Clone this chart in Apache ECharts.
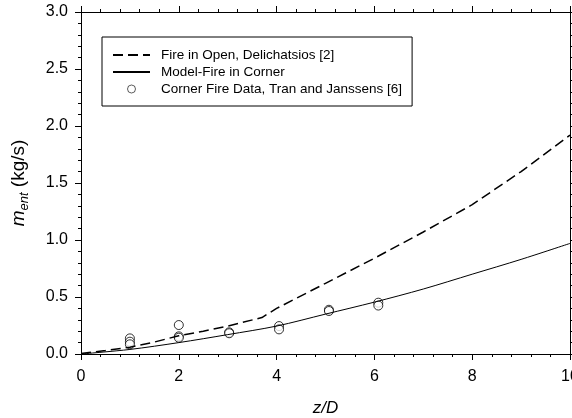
<!DOCTYPE html>
<html>
<head>
<meta charset="utf-8">
<script src="https://cdn.jsdelivr.net/npm/echarts@6/dist/echarts.min.js"></script>
<style>
  html, body { margin: 0; padding: 0; background: #fff; }
  #chart { width: 572px; height: 418px; }
</style>
</head>
<body>
<div id="chart"></div>
<script>
  // Fire in open (Delichatsios) - dashed
  var openX = [0, 0.5, 1, 1.5, 2, 2.5, 3, 3.7, 4, 5, 6, 7, 8, 9, 10];
  var openY = [0.005, 0.03, 0.06, 0.105, 0.16, 0.20, 0.245, 0.32, 0.40, 0.62, 0.84, 1.07, 1.31, 1.60, 1.92];
  // Model - fire in corner - solid
  var modelX = [0, 1, 2, 3, 4, 5, 6, 7, 8, 9, 10];
  var modelY = [0, 0.04, 0.10, 0.17, 0.245, 0.35, 0.455, 0.57, 0.70, 0.83, 0.97];
  // Corner fire data, Tran and Janssens
  var dataX = [1, 1, 1, 2, 2, 2, 3.03, 3.03, 4.05, 4.05, 5.07, 5.07, 6.08, 6.08];
  var dataY = [0.137, 0.108, 0.085, 0.254, 0.155, 0.143, 0.19, 0.182, 0.245, 0.216, 0.388, 0.377, 0.45, 0.425];

  var xTicks = [0, 2, 4, 6, 8, 10];
  var yTicks = [0.0, 0.5, 1.0, 1.5, 2.0, 2.5, 3.0];
  var names = ['Fire in Open, Delichatsios [2]', 'Model-Fire in Corner', 'Corner Fire Data, Tran and Janssens [6]'];

  function pairs(xs, ys) {
    return xs.map(function (x, i) { return [x, ys[i]]; });
  }

  var font = 'Liberation Sans, Arial, sans-serif';
  var chart = echarts.init(document.getElementById('chart'));

  var axisCommon = {
    axisLine: { show: true, onZero: false, lineStyle: { color: '#000', width: 1 } },
    axisTick: { show: true, length: 6, lineStyle: { color: '#000' } },
    minorTick: { show: true, splitNumber: 5, length: 3, lineStyle: { color: '#000' } },
    splitLine: { show: false }
  };

  var option = {
    animation: false,
    backgroundColor: '#fff',
    textStyle: { fontFamily: font },
    grid: { left: 81, right: 2, top: 12, bottom: 64, containLabel: false, outerBoundsMode: 'none' },
    legend: {
      orient: 'vertical',
      left: 102,
      top: 37,
      padding: [10, 10, 9, 10],
      borderColor: '#000',
      borderWidth: 1,
      itemWidth: 37,
      itemHeight: 8,
      itemGap: 1,
      textStyle: { fontFamily: font, fontSize: 13.5, lineHeight: 16, color: '#000', padding: [0, 0, 0, 6] },
      data: [
        { name: names[0], itemStyle: { opacity: 0 } },
        { name: names[1], itemStyle: { opacity: 0 } },
        { name: names[2], itemStyle: { color: '#fff', borderColor: '#000', borderWidth: 0.8 } }
      ]
    },
    xAxis: [
      Object.assign({
        type: 'value', min: xTicks[0], max: xTicks[xTicks.length - 1], interval: 2,
        position: 'bottom',
        axisLabel: { color: '#000', fontSize: 16, margin: 15, fontFamily: font },
        name: 'z/D',
        nameLocation: 'middle',
        nameGap: 46,
        nameTextStyle: { color: '#000', fontSize: 17, fontStyle: 'italic', fontFamily: font }
      }, axisCommon),
      Object.assign({
        type: 'value', min: xTicks[0], max: xTicks[xTicks.length - 1], interval: 2,
        position: 'top',
        axisLabel: { show: false }
      }, axisCommon)
    ],
    yAxis: [
      Object.assign({
        type: 'value', min: yTicks[0], max: yTicks[yTicks.length - 1], interval: 0.5,
        position: 'left',
        axisLabel: {
          color: '#000', fontSize: 16, margin: 13, fontFamily: font,
          formatter: function (v) { return v.toFixed(1); }
        },
        name: '{m|m}{sub|ent}{n| (kg/s)}',
        nameLocation: 'middle',
        nameGap: 50,
        nameTextStyle: {
          color: '#000', fontFamily: font,
          rich: {
            m: { fontSize: 19, fontStyle: 'italic', fontFamily: font, color: '#000', lineHeight: 24, verticalAlign: 'middle' },
            sub: { fontSize: 13, fontStyle: 'italic', fontFamily: font, color: '#000', lineHeight: 24, verticalAlign: 'bottom' },
            n: { fontSize: 19, fontFamily: font, color: '#000', lineHeight: 24, verticalAlign: 'middle' }
          }
        }
      }, axisCommon),
      Object.assign({
        type: 'value', min: yTicks[0], max: yTicks[yTicks.length - 1], interval: 0.5,
        position: 'right',
        axisLabel: { show: false }
      }, axisCommon)
    ],
    series: [
      {
        name: names[0],
        type: 'line',
        data: pairs(openX, openY),
        symbol: 'none',
        showSymbol: false,
        lineStyle: { color: '#000', width: 1.5, type: [10, 5] },
        itemStyle: { color: '#000' }
      },
      {
        name: names[1],
        type: 'line',
        data: pairs(modelX, modelY),
        symbol: 'none',
        showSymbol: false,
        smooth: 0.3,
        lineStyle: { color: '#000', width: 1 },
        itemStyle: { color: '#000' }
      },
      {
        name: names[2],
        type: 'scatter',
        data: pairs(dataX, dataY),
        symbol: 'circle',
        symbolSize: 9,
        itemStyle: { color: '#fff', borderColor: '#000', borderWidth: 1 }
      }
    ]
  };

  chart.setOption(option);
</script>
</body>
</html>
